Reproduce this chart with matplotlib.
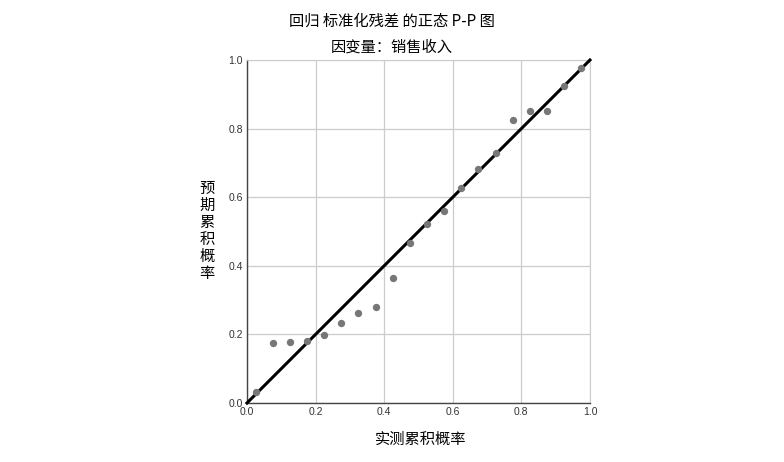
"""Normal P-P plot of standardized regression residuals (SPSS style)."""

import matplotlib
matplotlib.use("Agg")
import matplotlib.pyplot as plt

plt.rcParams["font.family"] = ["Noto Sans CJK SC", "DejaVu Sans"]

# observed cumulative probability
observed = [0.025, 0.075, 0.125, 0.175, 0.225, 0.275, 0.325, 0.375, 0.425, 0.475,
            0.525, 0.575, 0.625, 0.675, 0.725, 0.775, 0.825, 0.875, 0.925, 0.975]
# expected cumulative probability
expected = [0.033, 0.175, 0.177, 0.181, 0.198, 0.233, 0.262, 0.280, 0.364, 0.466,
            0.521, 0.560, 0.627, 0.682, 0.729, 0.825, 0.851, 0.851, 0.924, 0.977]
ticks = [0.0, 0.2, 0.4, 0.6, 0.8, 1.0]
tick_labels = ["0.0", "0.2", "0.4", "0.6", "0.8", "1.0"]

title = "回归 标准化残差 的正态 P-P 图"
subtitle = "因变量：销售收入"
xlabel = "实测累积概率"
ylabel = "预期累积概率"

fig = plt.figure(figsize=(7.84, 4.62), dpi=100)
ax = fig.add_axes([0.315, 0.1277, 0.4375, 0.7424])

ax.set_xlim(0, 1)
ax.set_ylim(0, 1)
ax.set_xticks(ticks)
ax.set_yticks(ticks)
ax.set_xticklabels(tick_labels, fontsize=7.5, family="Liberation Sans", color="#333333")
ax.set_yticklabels(tick_labels, fontsize=7.5, family="Liberation Sans", color="#333333")
ax.tick_params(length=0, pad=3)
ax.grid(True, color="#cccccc", linewidth=0.9)
ax.set_axisbelow(True)

for side in ("top", "right"):
    ax.spines[side].set_color("#cccccc")
for side in ("left", "bottom"):
    ax.spines[side].set_color("#444444")
    ax.spines[side].set_linewidth(1.0)

ax.plot([0, 1], [0, 1], color="black", linewidth=2.2, zorder=3, clip_on=False)
ax.scatter(observed, expected, s=28, color="#777777", zorder=4, linewidths=0)

fig.text(0.5, 0.955, title, ha="center", va="center", fontsize=11, weight="medium")
fig.text(0.5, 0.898, subtitle, ha="center", va="center", fontsize=11, weight="medium")
fig.text(0.536, 0.048, xlabel, ha="center", va="center", fontsize=11, weight="medium")
fig.text(0.264, 0.5, "\n".join(ylabel), ha="center", va="center", fontsize=11,
         weight="medium", linespacing=1.0)

fig.savefig("out.png", dpi=100)
